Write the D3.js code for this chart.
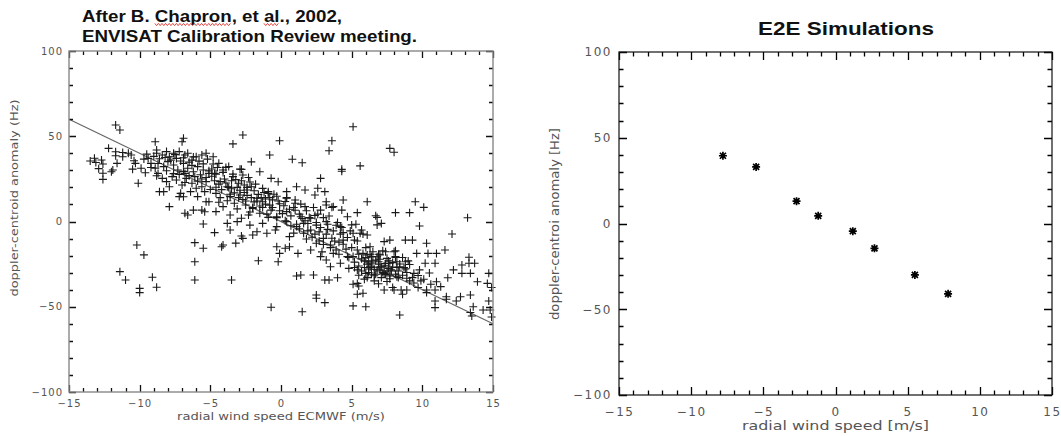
<!DOCTYPE html>
<html>
<head>
<meta charset="utf-8">
<script src="https://cdn.jsdelivr.net/npm/d3@7"></script>
</head>
<body style="margin:0">
<svg id="chart" width="1061" height="436"></svg>
<script>
// left panel: observed doppler anomaly vs ECMWF radial wind, [wind m/s, anomaly Hz]
const obsPoints = [
  [-11.7,56.6],[-11.4,53.7],[-13.2,37.1],[-12.7,36.1],[-12.6,28.3],[-12.6,24.7],[-12.2,42.9],[-12.0,29.2],[-11.9,30.2],
  [-11.7,40.9],[-11.6,34.1],[-11.2,38],[-10.8,40],[-10.6,39],[-10.3,34.1],[-10.1,22.4],[-9.9,31.2],[-9.4,37],[-9.2,34.1],
  [-8.9,46.8],[-8.8,41.9],[-8.6,17.5],[-8.3,17.5],[-7.9,8.7],[-6.9,48.8],[-7.0,46.8],[-7.1,16.5],[-6.9,14.5],[-6.8,4.8],
  [-6.6,3.8],[-6.2,6.7],[-5.6,6.7],[-5.4,5.7],[-5.3,11.6],
  [-13.1,34.6],[-12.6,33.7],[-11.7,38.6],[-11.2,40.5],[-10.4,35.6],[-10.5,30.7],[-9.7,36.6],[-9.2,31.7],[-8.8,26.8],
  [-13.5,35.5],[-12.9,31],
  [-8.8,40],[-8.4,39],[-8.1,41],[-7.9,38],[-7.6,40],[-7.4,37],[-7.2,41],[-6.8,39],[-6.6,40],[-6.3,36],[-6.0,38],[-5.6,39],
  [-5.3,40],[-8.7,34],[-8.3,32.2],[-8.0,35.1],[-7.6,33.1],[-7.3,30.2],[-6.9,34.1],[-6.6,31.2],[-6.2,29.2],[-5.9,32.2],
  [-5.5,30.2],[-5.1,28.2],[-8.4,25.3],[-8.1,23.4],[-7.7,26.3],[-7.4,24.3],[-7.0,21.4],[-6.7,25.3],[-6.3,22.4],[-6.0,19.5],
  [-5.6,20.4],[-5.3,23.4],[-7.9,20.4],[-7.2,14.6],[-6.4,17.5],[-5.9,14.6],[-5.4,17.5],[-5.1,11.6],[-8.7,28.2],[-6.8,28.2],
  [-6.1,26.3],
  [-2.7,50.7],[-3.4,45.5],[-0.1,47.4],[3.6,47.4],[3.4,41.5],[-0.8,39],[0.8,36.5],[1.5,34.5],[4.3,30.6],[4.3,29.5],
  [-2.1,35],[-2.8,30.6],[-1.5,29.2],[-0.7,25.3],[-0.2,23.3],[2.8,25.3],[1.1,20.4],[1.7,18.5],[2.6,19.5],[3.1,17.5],
  [4.4,12.6],[-0.9,17.5],[0.4,13.6],[1.0,10.7],[3.2,9.7],[3.6,8.3],
  [-4.8,38],[-4.4,34.1],[-4.1,30.2],[-4.7,28.2],[-3.7,32.2],[-3.4,26.3],[-4.3,23.4],[-3.8,20.4],[-3.0,22.4],[-2.7,27.3],
  [-2.4,18.5],[-4.6,16.5],[-3.6,14.6],[-2.9,15.5],[-2.1,20.4],[-1.7,13.6],[-3.3,10.7],[-4.1,8.7],[-2.5,9.7],[-2.0,7.7],
  [-1.3,11.6],[-0.9,16.5],[-1.5,4.8],[-2.3,3.8],[-0.7,6.7],[-0.3,2.8],[-3.6,3.8],[-4.6,5.8],[-2.8,1.9],
  [0.4,17.5],[1.0,12.6],[1.7,8.7],[2.4,15.5],[2.8,6.7],[3.2,11.6],[3.7,8.7],[4.3,6.7],[4.7,2.8],[1.4,2.8],[0.4,5.8],[2.1,1.9],
  [5.1,55.6],[7.7,42.9],[8.0,40.6],[5.6,32.6],[6.1,11.6],[5.4,5.2],[6.7,3.4],[6.8,2.4],[8.1,5.2],[9.1,5.2],[9.5,11.6],
  [10.1,8.3],[13.2,2.2],
  [-11.4,-29.4],[-11.0,-34.3],[-10.2,-13.8],[-9.7,-19.6],[-10.0,-39.2],[-10.0,-41.7],[-9.1,-32.7],[-8.8,-38.6],[-6.1,-12.4],
  [-5.5,-15.7],[-6.1,-23.6],[-6.1,-34.3],[-5.5,-1.5],
  [-4.7,-6.5],[-4.1,-13.8],[-4.2,-14.8],[-2.7,-9.9],[-2.8,-8.5],[-1.6,-23],[-3.5,-34.3],[-0.3,-14.8],[-0.1,-18.7],
  [-0.2,-23.6],[1.2,-18.7],[1.4,-31.4],[2.3,-31.4],[3.1,-34.3],[3.4,-34.3],[2.5,-43.1],[3.1,-47.6],[-0.7,-50.3],
  [1.5,-52.9],[-2.0,-7.9],[-1.0,-6.9],[0.6,-14.8],[0.3,-15.7],[-0.4,-5],[-3.2,-12.7],
  [1.1,-3],[1.6,-6.9],[2.1,-5],[2.5,-12.8],[3.0,-9.9],[3.5,-13.8],[3.9,-16.7],[4.4,-10.9],[4.7,-20.6],[2.8,-20.6],
  [3.2,-22.6],[3.7,-18.7],[4.2,-24.5],[2.1,-16.7],[3.5,-26.5],[4.8,-27.5],[0.6,-8.9],
  [-3.8,-1.1],[-3.1,-0.1],[-2.2,-2.1],[-1.3,-1.1],[-0.3,-3],[0.4,-0.1],[1.6,-1.1],[2.5,-2.1],[3.2,-0.1],[4.2,-3],
  [-3.6,-5],[-1.7,-6],[1.1,-32],[4.0,-33],[2.5,-45],
  [5.0,-2],[5.6,-6.9],[6.8,-2],[7.1,-1.1],[9.8,-2.6],[12.1,-7.3],
  [5.4,-16.7],[5.1,-20.6],[5.8,-18.7],[6.3,-14.8],[6.7,-22.6],[7.0,-19.6],[7.4,-17.7],[7.7,-24.5],[8.1,-20.6],[8.4,-26.5],
  [8.8,-23.6],[6.3,-26.5],[6.8,-28.4],[7.3,-30.4],[7.8,-28.4],[6.0,-30.4],[5.4,-28.4],[8.2,-32.4],[8.9,-33.3],[9.4,-30.4],
  [9.8,-28.4],[10.2,-24.5],[10.4,-18.7],[9.6,-18.7],[9.3,-10.9],[10.3,-12.8],[8.8,-10.9],[7.7,-10.9],[7.3,-11.8],
  [11.0,-18.7],[11.6,-16.7],[10.9,-24.5],[11.0,-35.3],[10.3,-40.2],[10.9,-40.2],[11.3,-38.2],[11.7,-44.1],[12.7,-44.1],
  [13.4,-43.1],[13.6,-50],[14.3,-51.9],[8.5,-40.2],[8.0,-40.2],[7.3,-40.2],[8.9,-40.2],[5.8,-42.1],[5.4,-36.3],[6.0,-50],
  [8.4,-54.8],[12.2,-28.4],[12.8,-30.4],[13.3,-24.5],[13.7,-24.5],[13.9,-35.3],[14.7,-30.4],[14.6,-36.3],[12.8,-25.5],
  [13.4,-30.4],[14.8,-51.9],
  [6.4,-20.6],[6.9,-23.6],[7.5,-21.6],[8.0,-17.7],[6.2,-23.6],[7.1,-26.5],[7.6,-27.5],[8.2,-23.6],[6.5,-17.7],[6.1,-19.6],
  [5.1,-6.9],[5.7,-5],[6.1,-7.9],[5.2,-10.9],
  [-5.1,29.7],[-4.8,33.7],[-4.7,23.9],[-4.6,27.8],[-4.5,31.7],[-4.4,21.9],[-4.3,14],[-4.1,28.8],[-4.0,24.9],[-3.9,31.7],
  [-3.7,20],[-3.6,16],[-3.5,23.9],[-3.4,27.8],[-3.1,20],[-3.0,14],[-2.9,30.7],[-2.8,23.9],[-2.6,17],[-2.5,12],[-2.4,20],
  [-2.3,25.8],[-2.1,14],[-2.0,8.2],[-1.9,18],[-1.8,21.9],[-1.7,12],[-1.4,14],[-1.3,8.2],[-1.2,17],[-1.1,10.2],[-1.0,4.3],
  [-0.8,14],[-0.6,8.2],[-0.5,16],[-0.3,2.3],[-0.2,12],[-0.1,6.3],[0.2,9.2],[0.3,0.4],[0.4,14],[0.6,7.2],[0.7,3.3],[0.9,8.2],
  [1.1,-1.6],[1.3,4.3],[1.4,10.2],[1.7,0.4],[1.8,6.3],[1.9,-5.5],[2.0,2.3],[2.3,8.2],[2.4,-7.4],[2.5,-0.6],[2.6,4.3],
  [2.7,-11.4],[2.8,-3.5],[3.0,2.3],[3.2,-7.4],[3.3,-1.6],[3.5,-15.3],[3.7,-5.5],[3.8,-11.4],[4.0,-0.6],[4.1,-19.2],
  [4.2,-7.4],[4.3,-3.5],[4.4,-13.3],[4.7,-9.4],[4.8,-21.1],[4.9,-5.5],[5.0,-15.3],[5.2,-27],[5.3,-1.6],[5.4,-11.4],
  [5.5,-19.2],[5.7,-29],[5.8,-7.4],[5.9,-23.1],[6.0,-15.3],[6.1,-32.9],[6.3,-19.2],[6.4,-27],[6.6,-34.8],[7.0,-29],
  [7.4,-31],[7.9,-38.7],[8.3,-32.9],[9.1,-34.8],[9.9,-34.8],[10.6,-36.8],
  [5.9,-27],[6.1,-25],[6.2,-29.9],[6.5,-23.1],[6.6,-28],[6.7,-30.9],[6.9,-25],[7.0,-22.1],[7.1,-32.9],[7.3,-26],[7.5,-29],
  [7.6,-23.1],[7.7,-31.9],[7.8,-29],[7.9,-24.1],[8.1,-21.1],[8.2,-27],[8.3,-29],[6.4,-30.9],[6.0,-21.1],[6.9,-19.2],
  [7.2,-17.2],[8.1,-17.2],[8.6,-21.1],[8.7,-27],[8.9,-29.9],[9.0,-23.1],[9.3,-32.9],
  [13.3,-21],[11.8,-33],[14.7,-46.6],[14.9,-56],[13.4,-53.4],[13.5,-55.4],[12.4,-46.6],[11.7,-45.6],[10.9,-46.6],
  [10.9,-50.5],[10.3,-41.7],[9.7,-38.7],[8.6,-42.7],[5.1,-49.5],[5.4,-42.7],[5.5,-37.8],[5.1,-36.8],[14.9,-38.7],
  [-9.5,39.5],[-9.0,38.2],[-8.6,36.8],[-8.2,37.5],[-7.8,36],[-7.5,39.2],[-7.1,35.5],[-6.9,37.4],[-6.5,34.8],[-6.2,37.9],
  [-5.8,35.4],[-5.5,33.8],[-5.2,36.6],[-4.9,30.8],[-6.3,32.9],[-6.9,29.4],[-7.6,28.1],[-8.1,29.8],[-5.7,27.4],[-5.3,25.8],
  [-4.9,26.5],[-6.5,26.9],[-7.2,27.6],[-8.9,31.3],[-9.6,28.6],[-5.9,23.7],[-6.8,22.9],[-4.6,20.1],[-5.0,18.8],[-5.6,24.9],
  [-4.2,18.7],[-3.9,22.6],[-3.5,19.2],[-3.2,24.6],[-2.9,18.3],[-2.6,21.4],[-2.4,15.3],[-2.2,23.2],[-1.9,11.5],[-1.6,15.9],
  [-1.3,19.4],[-1.1,13.2],[-0.8,9.6],[-0.6,12.7],[-0.3,14.8],[-0.1,10.4],[-3.8,12.2],[-3.3,16.8],[-2.7,12.9],[-1.5,9.1],
  [-4.4,11.3],[-3.1,7.4],[-2.2,5.6],[-0.9,2.4],[0.1,4.6],
  [0.3,11.7],[0.7,-2.5],[1.0,6.6],[1.3,-4.3],[1.5,1.8],[1.9,-1.2],[2.2,-9.2],[2.4,3.5],[2.7,-6.1],[3.0,-13.5],[3.3,-4.6],
  [3.6,-9.8],[3.9,-2.2],[4.1,-12.1],[4.4,-6.5],[4.6,-16.2],[0.9,-6.8],[1.8,-10.3],[2.9,-17.8],[3.4,3.2],
  [5.2,-23.8],[5.5,-26.1],[5.7,-21.9],[5.9,-33.8],[6.2,-27.9],[6.4,-24.3],[6.6,-31.8],[6.8,-20.7],[7.0,-26.8],[7.2,-29.9],
  [7.4,-24.6],[7.7,-33.6],[7.9,-26.7],[8.1,-30.9],[8.4,-24.9],[8.6,-31.5],[8.8,-27.8],[9.1,-25.2],[9.4,-36.1],[9.7,-31.7],
  [10.1,-33.9],[10.5,-30.2],[5.5,-31.5],[6.9,-36.5],[7.5,-35.2]
];
// least-squares line drawn over the scatter
const fitSlope = -4;
const fitIntercept = 0;

// right panel: E2E simulation points
const simWind = [-7.8, -5.5, -2.7, -1.2, 1.2, 2.7, 5.5, 7.8];
const simDoppler = [39.5, 33, 13, 4.5, -4.5, -14.5, -30, -41];

const xTicks = [-15, -10, -5, 0, 5, 10, 15];
const yTicks = [-100, -50, 0, 50, 100];

const svg = d3.select("#chart");

const xL = d3.scaleLinear().domain([-15, 15]).range([69, 493]);
const yL = d3.scaleLinear().domain([-100, 100]).range([392, 51]);
const xR = d3.scaleLinear().domain([-15, 15]).range([619, 1052]);
const yR = d3.scaleLinear().domain([-100, 100]).range([395, 52]);

const xMinor = d3.range(-15, 15.01, 1);
const yMinor = d3.range(-100, 100.01, 10);

// frame box with inward ticks on all four sides, drawn as one path
function frame(x, y, opt) {
  const [x0, x1] = x.range(), [y0, y1] = y.range();
  const p = d3.path();
  xMinor.forEach(v => {
    const len = xTicks.includes(v) ? opt.majorLen : opt.minorLen;
    const px = Math.round(x(v)) + 0.5;
    p.moveTo(px, y0); p.lineTo(px, y0 - len);
    p.moveTo(px, y1); p.lineTo(px, y1 + len);
  });
  yMinor.forEach(v => {
    const len = yTicks.includes(v) ? opt.majorLen : opt.minorLen;
    const py = Math.round(y(v)) + 0.5;
    p.moveTo(x0, py); p.lineTo(x0 + len, py);
    p.moveTo(x1, py); p.lineTo(x1 - len, py);
  });
  svg.append("path")
    .attr("d", p.toString())
    .attr("fill", "none")
    .attr("stroke", opt.tickColor)
    .attr("stroke-width", opt.tickWidth);
  svg.append("rect").attr("x", x0).attr("y", y1).attr("width", x1 - x0).attr("height", y0 - y1)
    .attr("fill", "none").attr("stroke", opt.frameColor).attr("stroke-width", opt.frameWidth);
}

// tick labels from d3 axes without tick lines
function labels(x, y, opt) {
  const [x0] = x.range(), [y0] = y.range();
  const lab = svg.append("g");
  lab.append("g")
    .attr("transform", `translate(0,${y0})`)
    .call(d3.axisBottom(x).tickValues(xTicks).tickSize(0).tickPadding(opt.xPad))
    .call(s => s.selectAll(".domain, line").remove());
  lab.append("g")
    .attr("transform", `translate(${x0},0)`)
    .call(d3.axisLeft(y).tickValues(yTicks).tickSize(0).tickPadding(opt.yPad))
    .call(s => s.selectAll(".domain, line").remove());
  lab.selectAll("text")
    .attr("font-family", "DejaVu Sans")
    .attr("font-size", opt.labelSize)
    .attr("letter-spacing", opt.spacing)
    .attr("fill", "#555");
}

function axisTitles(x, y, opt) {
  const [x0, x1] = x.range();
  svg.append("text")
    .attr("x", (x0 + x1) / 2).attr("y", opt.xTitleY)
    .attr("text-anchor", "middle")
    .attr("font-family", "DejaVu Sans")
    .attr("font-size", opt.titleSize)
    .attr("fill", "#555")
    .attr("textLength", opt.xTitleLen)
    .attr("lengthAdjust", "spacingAndGlyphs")
    .text(opt.xTitle);
  svg.append("text")
    .attr("transform", `translate(${opt.yTitleX},${opt.yTitleMid}) rotate(-90)`)
    .attr("text-anchor", "middle")
    .attr("font-family", "DejaVu Sans")
    .attr("font-size", opt.titleSize)
    .attr("fill", "#555")
    .attr("textLength", opt.yTitleLen)
    .attr("lengthAdjust", "spacingAndGlyphs")
    .text(opt.yTitle);
}

// ---------- left panel ----------
labels(xL, yL, {xPad: 8, yPad: 6, labelSize: 10, spacing: 1});
axisTitles(xL, yL, {
  titleSize: 11, xTitleY: 420, xTitleLen: 208, xTitle: "radial wind speed ECMWF (m/s)",
  yTitleX: 18, yTitleMid: 198, yTitleLen: 197, yTitle: "doppler-centroid anomaly (Hz)"
});

svg.append("path")
  .datum(xL.domain())
  .attr("fill", "none")
  .attr("stroke", "#666")
  .attr("stroke-width", 1.2)
  .attr("d", d3.line().x(d => xL(d)).y(d => yL(fitIntercept + fitSlope * d)));

svg.append("g")
  .attr("fill", "none")
  .attr("stroke", "#1a1a1a")
  .attr("stroke-width", 1.1)
  .selectAll("path")
  .data(obsPoints)
  .join("path")
  .attr("transform", d => `translate(${xL(d[0])},${yL(d[1])})`)
  .attr("d", "M-4,0H4M0,-4V4");

// left title with spell-check marks
const tAttrs = s => s.attr("x", 82)
  .attr("font-family", "Liberation Sans, Arial, sans-serif")
  .attr("font-weight", "bold")
  .attr("font-size", 16.5)
  .attr("fill", "#111")
  .attr("lengthAdjust", "spacingAndGlyphs");
const line1 = svg.append("text").call(tAttrs).attr("y", 22).attr("textLength", 260)
  .text("After B. Chapron, et al., 2002,");
svg.append("text").call(tAttrs).attr("y", 42).attr("textLength", 335)
  .text("ENVISAT Calibration Review meeting.");

function squiggle(node, from, to, y) {
  const a = node.getStartPositionOfChar(from).x;
  const b = node.getEndPositionOfChar(to).x;
  const pts = d3.range(a, b + 0.1, 1.8).map((px, i) => [px, y + (i % 2 ? 1.1 : -1.1)]);
  svg.append("path")
    .attr("d", d3.line()(pts))
    .attr("fill", "none")
    .attr("stroke", "#e0302a")
    .attr("stroke-width", 0.9);
}
squiggle(line1.node(), 9, 15, 24.5);
squiggle(line1.node(), 21, 22, 24.5);

// ---------- right panel ----------
labels(xR, yR, {xPad: 12, yPad: 7, labelSize: 12, spacing: 1.5});
axisTitles(xR, yR, {
  titleSize: 12.5, xTitleY: 430, xTitleLen: 187, xTitle: "radial wind speed [m/s]",
  yTitleX: 559, yTitleMid: 224, yTitleLen: 192, yTitle: "doppler-centroi anomaly [Hz]"
});

svg.append("text")
  .attr("x", 758).attr("y", 35)
  .attr("font-family", "Liberation Sans, Arial, sans-serif")
  .attr("font-weight", "bold")
  .attr("font-size", 18.5)
  .attr("fill", "#111")
  .attr("textLength", 176)
  .attr("lengthAdjust", "spacingAndGlyphs")
  .text("E2E Simulations");

svg.append("g")
  .attr("fill", "none")
  .attr("stroke", "#000")
  .attr("stroke-width", 1.7)
  .selectAll("path")
  .data(simWind)
  .join("path")
  .attr("transform", (d, i) => `translate(${xR(d)},${yR(simDoppler[i])})`)
  .attr("d", "M-4,0H4M0,-4V4M-3,-3L3,3M-3,3L3,-3");

// frames last so their ticks sit on top
frame(xL, yL, {minorLen: 4, majorLen: 7, tickColor: "#111", tickWidth: 1.3, frameColor: "#888", frameWidth: 1.4});
frame(xR, yR, {minorLen: 4.5, majorLen: 8, tickColor: "#000", tickWidth: 1.3, frameColor: "#111", frameWidth: 1.2});
</script>
</body>
</html>
